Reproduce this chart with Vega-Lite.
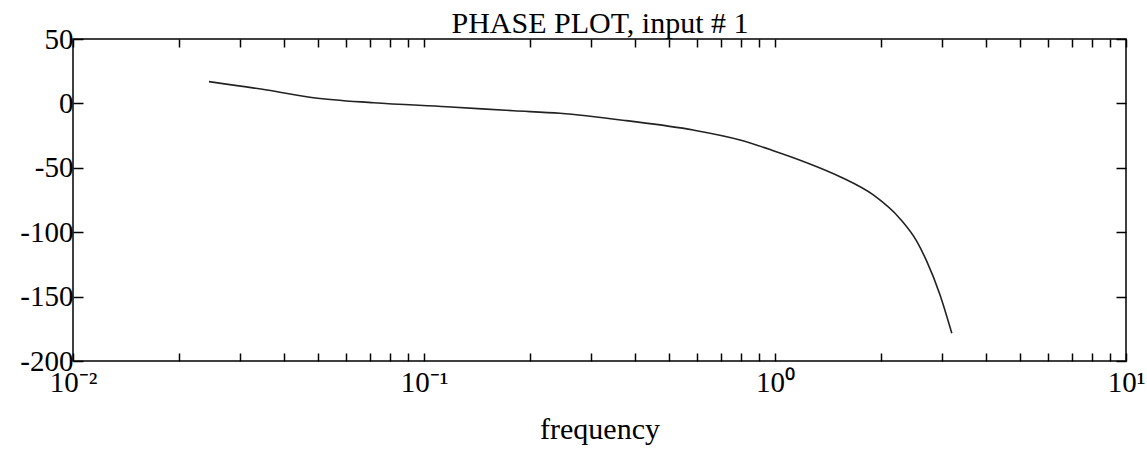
{
  "$schema": "https://vega.github.io/schema/vega-lite/v6.json",
  "width": 1053,
  "height": 322,
  "autosize": {"type": "none"},
  "padding": {"left": 73, "top": 39, "right": 21, "bottom": 92},
  "background": "white",
  "config": {
    "view": {"stroke": "black", "strokeWidth": 1.5},
    "axis": {"grid": false, "domain": false, "tickColor": "black", "tickWidth": 1.5}
  },
  "data": {
    "values": [
      {"frequency": 0.0244, "phase": 16.9},
      {"frequency": 0.0357, "phase": 10.4},
      {"frequency": 0.0484, "phase": 4.4},
      {"frequency": 0.0718, "phase": 0.5},
      {"frequency": 0.116, "phase": -2.6},
      {"frequency": 0.18, "phase": -5.7},
      {"frequency": 0.244, "phase": -7.7},
      {"frequency": 0.377, "phase": -13.4},
      {"frequency": 0.585, "phase": -20.7},
      {"frequency": 0.795, "phase": -28.4},
      {"frequency": 0.989, "phase": -36.7},
      {"frequency": 1.231, "phase": -46.0},
      {"frequency": 1.532, "phase": -56.9},
      {"frequency": 1.906, "phase": -71.1},
      {"frequency": 2.27, "phase": -89.5},
      {"frequency": 2.533, "phase": -107.0},
      {"frequency": 2.705, "phase": -122.5},
      {"frequency": 2.951, "phase": -148.5},
      {"frequency": 3.19, "phase": -178.5}
    ]
  },
  "layer": [
    {
      "mark": {"type": "line", "color": "#222222", "strokeWidth": 1.6, "interpolate": "monotone"},
      "encoding": {
        "x": {
          "field": "frequency",
          "type": "quantitative",
          "scale": {"type": "log", "domain": [0.01, 10], "nice": false},
          "axis": {
            "orient": "bottom",
            "values": [0.01, 0.02, 0.03, 0.04, 0.05, 0.06, 0.07, 0.08, 0.09, 0.1, 0.2, 0.3, 0.4, 0.5, 0.6, 0.7, 0.8, 0.9, 1, 2, 3, 4, 5, 6, 7, 8, 9, 10],
            "labelExpr": "datum.value == 0.01 ? '10⁻²' : datum.value == 0.1 ? '10⁻¹' : datum.value == 1 ? '10⁰' : datum.value == 10 ? '10¹' : ''",
            "tickSize": -8,
            "labelFont": "Liberation Serif",
            "labelFontSize": 29,
            "labelColor": "black",
            "labelPadding": 15,
            "labelOverlap": false,
            "labelFlush": false,
            "title": "frequency",
            "titleFont": "Liberation Serif",
            "titleFontSize": 30,
            "titleFontWeight": "normal",
            "titleColor": "black",
            "titlePadding": 17
          }
        },
        "y": {
          "field": "phase",
          "type": "quantitative",
          "scale": {"domain": [-200, 50], "nice": false, "zero": false},
          "axis": {
            "orient": "left",
            "values": [-200, -150, -100, -50, 0, 50],
            "labelExpr": "'' + datum.value",
            "tickSize": -10,
            "labelFont": "Liberation Serif",
            "labelFontSize": 29,
            "labelColor": "black",
            "labelPadding": 10,
            "labelFlush": false,
            "labelOverlap": false,
            "title": null
          }
        }
      }
    },
    {
      "mark": {"type": "line", "strokeOpacity": 0},
      "encoding": {
        "x": {
          "field": "frequency",
          "type": "quantitative",
          "scale": {"type": "log", "domain": [0.01, 10], "nice": false},
          "axis": {
            "orient": "top",
            "values": [0.01, 0.02, 0.03, 0.04, 0.05, 0.06, 0.07, 0.08, 0.09, 0.1, 0.2, 0.3, 0.4, 0.5, 0.6, 0.7, 0.8, 0.9, 1, 2, 3, 4, 5, 6, 7, 8, 9, 10],
            "tickSize": -8,
            "labels": false,
            "title": "PHASE PLOT, input # 1",
            "titleFont": "Liberation Serif",
            "titleFontSize": 30,
            "titleFontWeight": "normal",
            "titleColor": "black",
            "titleBaseline": "alphabetic",
            "titlePadding": 6
          }
        },
        "y": {
          "field": "phase",
          "type": "quantitative",
          "scale": {"domain": [-200, 50], "nice": false, "zero": false},
          "axis": {
            "orient": "right",
            "values": [-200, -150, -100, -50, 0, 50],
            "tickSize": -10,
            "labels": false,
            "title": null
          }
        }
      }
    }
  ],
  "resolve": {"axis": {"x": "independent", "y": "independent"}}
}
